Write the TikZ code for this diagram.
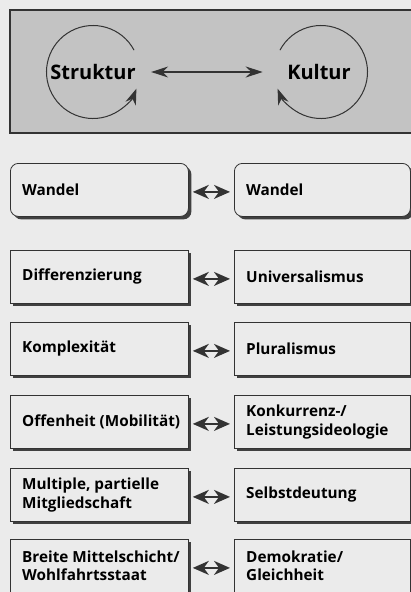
\documentclass[tikz,border=0pt]{standalone}
\usepackage{fontspec}
\setmainfont{Open Sans}
\usetikzlibrary{arrows.meta}
\usetikzlibrary{shadows}

\definecolor{pagegray}{HTML}{EBEBEB}
\definecolor{panelgray}{HTML}{C3C3C3}
\definecolor{linegray}{HTML}{333333}

\begin{document}
\begin{tikzpicture}[x=1pt,y=-1pt]

\tikzstyle{termbox}=[rectangle, draw=linegray, thick, fill=pagegray, minimum height=53pt, anchor=north west, drop shadow={shadow xshift=3pt, shadow yshift=-3pt, fill=black!75, opacity=1}]
\tikzstyle{lbox}=[termbox, minimum width=178pt]
\tikzstyle{rbox}=[termbox, minimum width=176pt]
\tikzstyle{termtext}=[anchor=west, inner sep=0pt, align=left, font=\fontsize{15.3}{18.5}\selectfont\bfseries]
\tikzstyle{pair}=[{Stealth[length=16pt,width=14pt,inset=5pt]}-{Stealth[length=16pt,width=14pt,inset=5pt]}, line width=1.8pt, draw=linegray]
\tikzstyle{loop}=[-{Stealth[length=16pt,width=11pt]}, line width=1pt, draw=linegray]
\tikzstyle{big}=[font=\fontsize{20}{24}\selectfont\bfseries]

\useasboundingbox (0,0) rectangle (411,592);
\fill[pagegray] (0,0) rectangle (411,592);

% oberes Feld
\fill[panelgray] (10,10) rectangle (416,133);
\draw[linegray, line width=1.4pt] (416,10) -- (10,10) -- (10,133) -- (416,133);

\node[big] (struk) at (93,72) {Struktur};
\node[big] (kult) at (319,72) {Kultur};

\draw[loop] ([shift={(-28:46.5)}]93,72) arc[start angle=-28, end angle=-339, radius=46.5];
\draw[loop] ([shift={(-152:46.5)}]321,72) arc[start angle=-152, end angle=159, radius=46.5];

\draw[{Stealth[length=17pt,width=11pt]}-{Stealth[length=17pt,width=11pt]}, line width=1.2pt, draw=linegray, shorten <=12pt, shorten >=21pt] (struk.east) -- (kult.west);

% Kaesten
\node[lbox, rounded corners=8pt] (lw) at (10,163) {};
\node[rbox, rounded corners=8pt] (rw) at (234,163) {};
\node[lbox] (ld) at (10,250) {};
\node[rbox] (rd) at (234,250) {};
\node[lbox] (lk) at (10,322) {};
\node[rbox] (rk) at (234,322) {};
\node[lbox] (lo) at (10,395) {};
\node[rbox] (ro) at (234,395) {};
\node[lbox] (lm) at (10,468) {};
\node[rbox] (rm) at (234,468) {};
\node[lbox] (lb) at (10,539) {};
\node[rbox] (rb) at (234,539) {};

\node[termtext] (lwt) at ([xshift=12pt]lw.west) {Wandel};
\node[termtext] (rwt) at ([xshift=12pt]rw.west) {Wandel};
\node[termtext] (ldt) at ([xshift=12pt]ld.west) {Differenzierung};
\node[termtext] (rdt) at ([xshift=12pt]rd.west) {Universalismus};
\node[termtext] (lkt) at ([xshift=12pt]lk.west) {Komplexität};
\node[termtext] (rkt) at ([xshift=12pt]rk.west) {Pluralismus};
\node[termtext] (lot) at ([xshift=12pt]lo.west) {Offenheit (Mobilität)};
\node[termtext] (rot) at ([xshift=12pt]ro.west) {Konkurrenz-/\\Leistungsideologie};
\node[termtext] (lmt) at ([xshift=12pt]lm.west) {Multiple, partielle\\Mitgliedschaft};
\node[termtext] (rmt) at ([xshift=12pt]rm.west) {Selbstdeutung};
\node[termtext] (lbt) at ([xshift=12pt]lb.west) {Breite Mittelschicht/\\Wohlfahrtsstaat};
\node[termtext] (rbt) at ([xshift=12pt]rb.west) {Demokratie/\\Gleichheit};

\foreach \a/\b in {lw/rw, ld/rd, lk/rk, lo/ro, lm/rm, lb/rb}
  \draw[pair, shorten <=4pt, shorten >=4pt] ([yshift=-2pt]\a.east) -- ([yshift=-2pt]\b.west);

\end{tikzpicture}
\end{document}
